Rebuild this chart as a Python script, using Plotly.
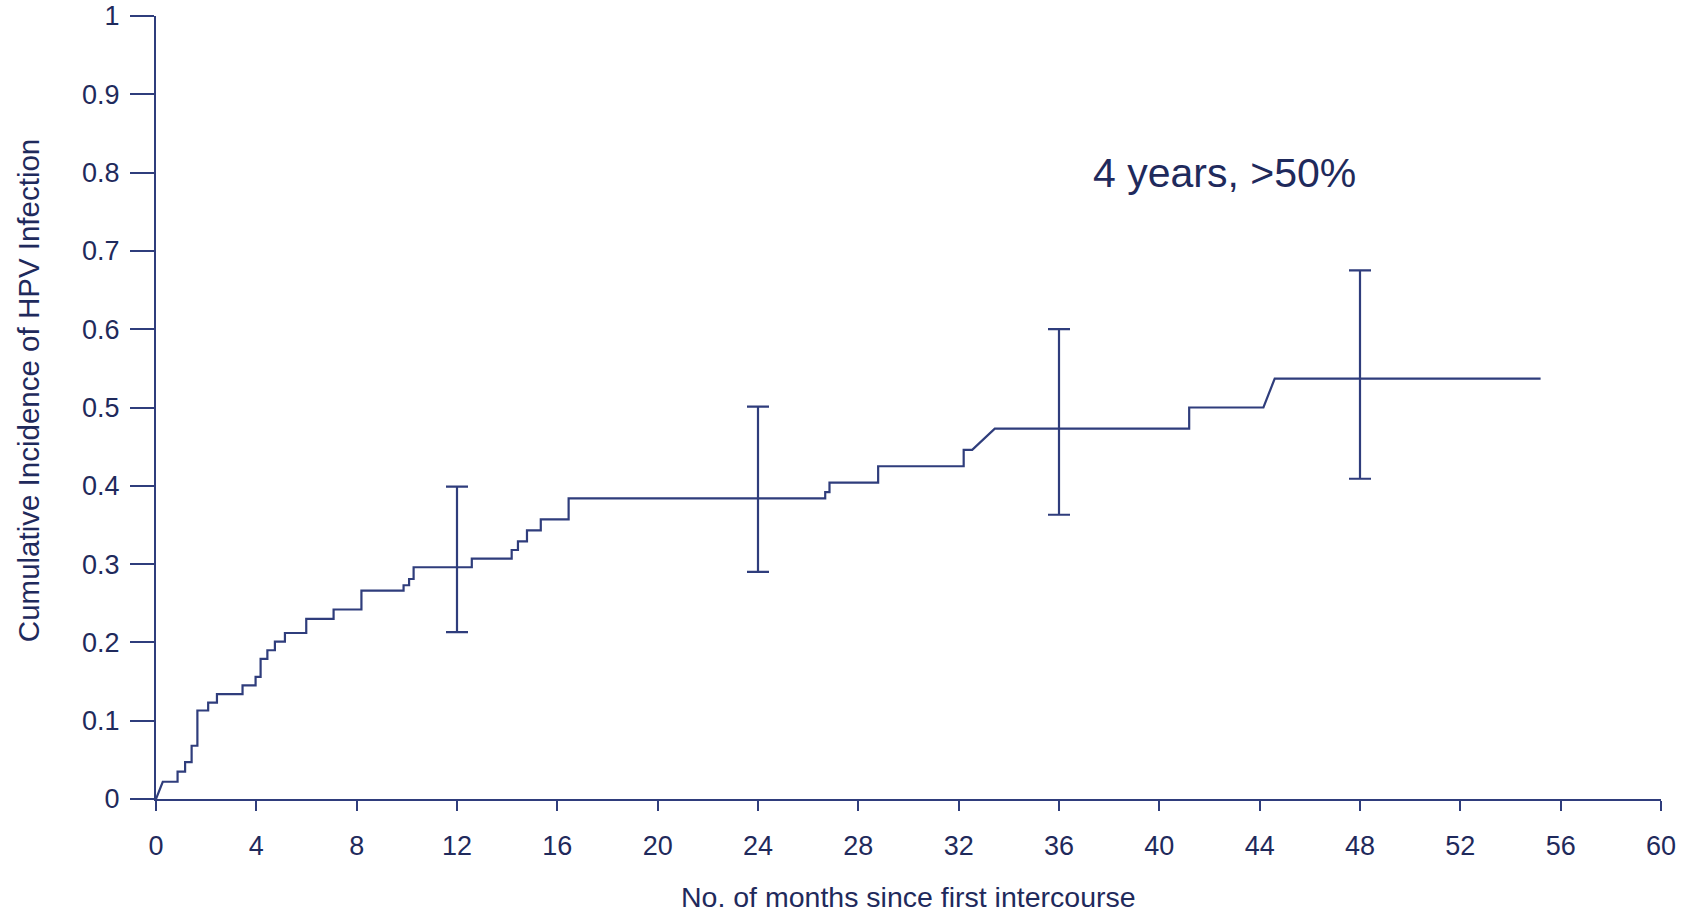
import plotly.graph_objects as go

# ---- data ----
# each event: curve leaves previous level at event_start, reaches new level at event_end
event_start = [0.0, 0.86, 1.16, 1.42, 1.65, 2.08, 2.43, 3.45, 3.97, 4.17, 4.44, 4.74, 5.14,
               5.99, 7.08, 8.19, 9.87, 10.09, 10.27, 12.59, 14.18, 14.43, 14.79, 15.34, 16.45,
               26.68, 26.85, 28.79, 32.20, 32.54, 41.19, 44.15]
event_end = [0.27, 0.86, 1.16, 1.42, 1.65, 2.08, 2.43, 3.45, 3.97, 4.17, 4.44, 4.74, 5.14,
             5.99, 7.08, 8.19, 9.87, 10.09, 10.27, 12.59, 14.18, 14.43, 14.79, 15.34, 16.45,
             26.68, 26.85, 28.79, 32.20, 33.44, 41.19, 44.60]
cum_incidence = [0.022, 0.035, 0.047, 0.068, 0.113, 0.123, 0.134, 0.145, 0.156, 0.179, 0.190,
                 0.201, 0.212, 0.230, 0.242, 0.266, 0.273, 0.281, 0.296, 0.307, 0.318, 0.329,
                 0.343, 0.357, 0.384, 0.392, 0.404, 0.425, 0.446, 0.473, 0.500, 0.537]
follow_up_end = 55.2

ci_months = [12, 24, 36, 48]
ci_estimate = [0.297, 0.384, 0.473, 0.537]
ci_lower = [0.213, 0.290, 0.363, 0.409]
ci_upper = [0.399, 0.501, 0.600, 0.675]

x_ticks = list(range(0, 61, 4))
y_ticks = [round(i * 0.1, 1) for i in range(11)]

x_title = "No. of months since first intercourse"
y_title = "Cumulative Incidence of HPV Infection"
note_text = "4 years, >50%"

# ---- build step path ----
xs, ys = [0.0], [0.0]
prev = 0.0
for s, e, v in zip(event_start, event_end, cum_incidence):
    xs.append(s); ys.append(prev)
    xs.append(e); ys.append(v)
    prev = v
xs.append(follow_up_end); ys.append(prev)

LINE = "#2f3d7c"
TEXT = "#1f2a5c"
FONT = "Liberation Sans, Arial, sans-serif"

fig = go.Figure()
fig.add_trace(go.Scatter(x=xs, y=ys, mode="lines",
                         line=dict(color=LINE, width=2.2), hoverinfo="skip",
                         showlegend=False))
fig.add_trace(go.Scatter(
    x=ci_months, y=ci_estimate, mode="markers",
    marker=dict(color="rgba(0,0,0,0)", size=1),
    error_y=dict(type="data", symmetric=False,
                 array=[u - e for u, e in zip(ci_upper, ci_estimate)],
                 arrayminus=[e - l for e, l in zip(ci_estimate, ci_lower)],
                 color=LINE, thickness=2.2, width=11),
    showlegend=False, hoverinfo="skip"))

fig.update_layout(
    width=1681, height=912,
    margin=dict(l=156, r=20, t=16, b=113, autoexpand=False),
    paper_bgcolor="white", plot_bgcolor="white",
    font=dict(family=FONT, color=TEXT),
    xaxis=dict(range=[0, 60], tickvals=x_ticks, ticks="outside", ticklen=10,
               tickwidth=2, tickcolor=LINE, showline=True, linecolor=LINE,
               linewidth=2, showgrid=False, zeroline=False, automargin=False,
               tickfont=dict(size=27, color=TEXT, family=FONT),
               ticklabelstandoff=12),
    yaxis=dict(range=[0, 1], tickvals=y_ticks, ticks="outside", ticklen=24,
               tickwidth=2, tickcolor=LINE, showline=True, linecolor=LINE,
               linewidth=2, showgrid=False, zeroline=False, automargin=False,
               tickfont=dict(size=27, color=TEXT, family=FONT),
               ticklabelstandoff=5),
    annotations=[
        dict(text=x_title, xref="paper", yref="paper", x=0.5, y=-0.1246,
             xanchor="center", yanchor="middle", showarrow=False,
             font=dict(size=28.5, color=TEXT, family=FONT)),
        dict(text=y_title, xref="paper", yref="paper", x=-0.085, y=0.521,
             xanchor="center", yanchor="middle", showarrow=False, textangle=-90,
             font=dict(size=29.5, color=TEXT, family=FONT)),
        dict(text=note_text, xref="x", yref="y", x=42.6, y=0.80,
             xanchor="center", yanchor="middle", showarrow=False,
             font=dict(size=41, color=TEXT, family=FONT)),
    ],
)

fig.write_html(
    "out.html",
    config={"displayModeBar": False},
    post_script=("document.body.style.margin='0';"
                 "document.body.style.overflow='hidden';"
                 "document.documentElement.style.overflow='hidden';"),
)
